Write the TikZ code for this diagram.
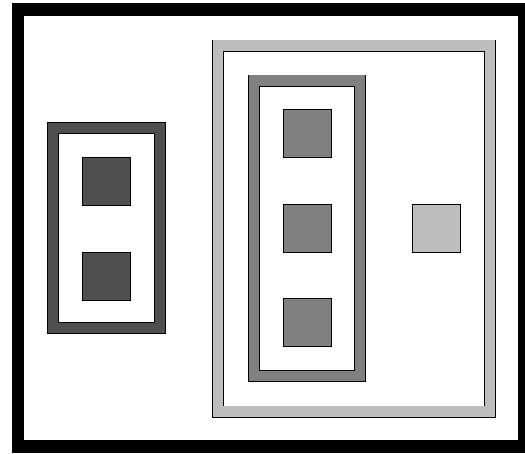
\documentclass[tikz,border=0pt]{standalone}
\usetikzlibrary{positioning}
\definecolor{darkfill}{gray}{0.31}
\definecolor{midfill}{gray}{0.5}
\definecolor{lightfill}{gray}{0.74}
\tikzset{
    outer frame/.style = {draw=black, line width=12.5pt, inner sep=0pt},
    band/.style        = {draw=black, line width=0.8pt, double distance=10.4pt,
                          inner sep=0pt},
    tile/.style        = {draw=black, line width=0.8pt, minimum size=48pt,
                          inner sep=0pt, outer sep=0pt}
}
\def\tilegap{46.5pt}

\begin{document}
\begin{tikzpicture}[x=1pt,y=-1pt]
\fill[white] (0,0) rectangle (525,453);
\useasboundingbox (0,0) rectangle (525,453);
\node[outer frame,minimum width=506.5pt,minimum height=437pt] (frame) at (271.25,228) {};

% left group of two dark tiles
\node[band,double=darkfill,minimum width=107pt,minimum height=200pt] (pair) at (106.5,228) {};
\node[tile,fill=darkfill,above=23pt of pair.center] (p1) {};
\node[tile,fill=darkfill,below=24pt of pair.center] (p2) {};

% right group
\node[band,double=lightfill,minimum width=272pt,minimum height=366pt] (group) at (354,228.5) {};
\node[band,double=midfill,minimum width=106pt,minimum height=295.5pt] (column) at (307,228.25) {};
\node[tile,fill=midfill] (c2) at (307,228) {};
\node[tile,fill=midfill,above=\tilegap of c2] (c1) {};
\node[tile,fill=midfill,below=\tilegap of c2] (c3) {};
\node[tile,fill=lightfill] (single) at (436.5,228) {};
\end{tikzpicture}
\end{document}
